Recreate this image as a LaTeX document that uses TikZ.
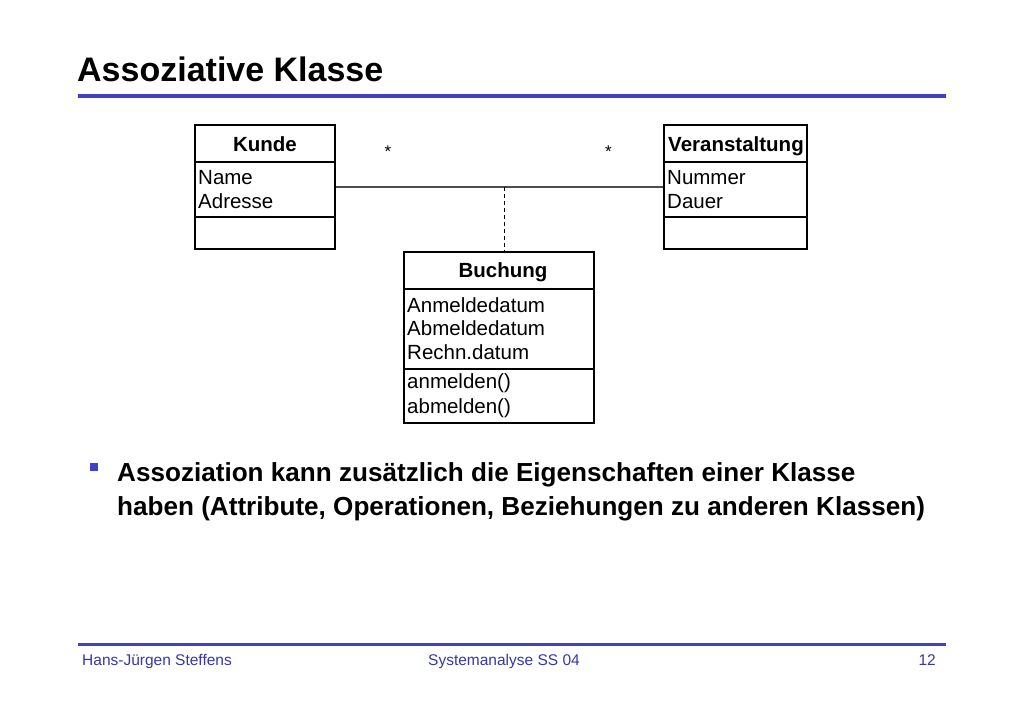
\documentclass[tikz,border=0pt]{standalone}
\usepackage{fontspec}
\setmainfont{Liberation Sans}
\definecolor{rulecol}{RGB}{64,64,200}
\definecolor{footcol}{RGB}{55,55,170}
\begin{document}
\begin{tikzpicture}[x=1pt,y=-1pt,
  classbox/.style={draw=black,line width=1.4pt,rectangle,inner sep=0pt},
  divider/.style={line width=1.4pt},
  cname/.style={font=\fontsize{20.5}{23}\selectfont\bfseries,anchor=base,inner sep=0pt},
  attr/.style={font=\fontsize{20.5}{23}\selectfont,anchor=base west,inner sep=0pt},
  mult/.style={font=\fontsize{17}{20}\selectfont,inner sep=0pt},
  foot/.style={font=\fontsize{15.5}{18}\selectfont,text=footcol,anchor=base,inner sep=0pt},
  bul/.style={font=\fontsize{26.1}{30}\selectfont\bfseries,anchor=base west,inner sep=0pt}]
\useasboundingbox (0,0) rectangle (1023,708);
\fill[white] (0,0) rectangle (1023,708);
% title
\node[font=\fontsize{34}{40}\selectfont\bfseries,anchor=base west,inner sep=0pt] (title) at (77,82) {Assoziative Klasse};
\fill[rulecol] (78,94.5) rectangle (946,98);
% classes
\node[classbox,minimum width=140pt,minimum height=124pt] (kunde) at (265,187) {};
\node[classbox,minimum width=143pt,minimum height=124pt] (veran) at (735.5,187) {};
\node[classbox,minimum width=190pt,minimum height=171pt] (buch) at (499,337.5) {};
\draw[divider] (kunde.west |- 0,162) -- (kunde.east |- 0,162);
\draw[divider] (kunde.west |- 0,217) -- (kunde.east |- 0,217);
\draw[divider] (veran.west |- 0,162) -- (veran.east |- 0,162);
\draw[divider] (veran.west |- 0,217) -- (veran.east |- 0,217);
\draw[divider] (buch.west |- 0,289) -- (buch.east |- 0,289);
\draw[divider] (buch.west |- 0,369) -- (buch.east |- 0,369);
\node[cname] (kt) at (265,152) {Kunde};
\node[attr] (k1) at (198,185) {Name};
\node[attr] (k2) at (198,209) {Adresse};
\node[cname] (vt) at (736,152) {Veranstaltung};
\node[attr] (v1) at (667,185) {Nummer};
\node[attr] (v2) at (667,209) {Dauer};
\node[cname] (bt) at (503,278) {Buchung};
\node[attr] (b1) at (407,313) {Anmeldedatum};
\node[attr] (b2) at (407,336) {Abmeldedatum};
\node[attr] (b3) at (407,360) {Rechn.datum};
\node[attr] (b4) at (407,389) {anmelden()};
\node[attr] (b5) at (407,414) {abmelden()};
% association
\draw[line width=1.2pt,black!70] (kunde.east) -- (veran.west);
\coordinate (mid) at (504,187);
\draw[line width=0.9pt,dash pattern=on 4pt off 3pt] (mid) -- (mid |- buch.north);
\node[mult] (m1) at (388,152) {*};
\node[mult] (m2) at (608.5,152) {*};
% bullet
\fill[rulecol] (90,463) rectangle (98,471);
\node[bul] (l1) at (117,482) {Assoziation kann zusätzlich die Eigenschaften einer Klasse};
\node[bul] (l2) at (117,515) {haben (Attribute, Operationen, Beziehungen zu anderen Klassen)};
% footer
\fill[rulecol] (78,642.5) rectangle (946,645.5);
\node[foot,anchor=base west] (f1) at (82,665) {Hans-Jürgen Steffens};
\node[foot] (f2) at (504,665) {Systemanalyse SS 04};
\node[foot,anchor=base east] (f3) at (936,665) {12};
\end{tikzpicture}
\end{document}
